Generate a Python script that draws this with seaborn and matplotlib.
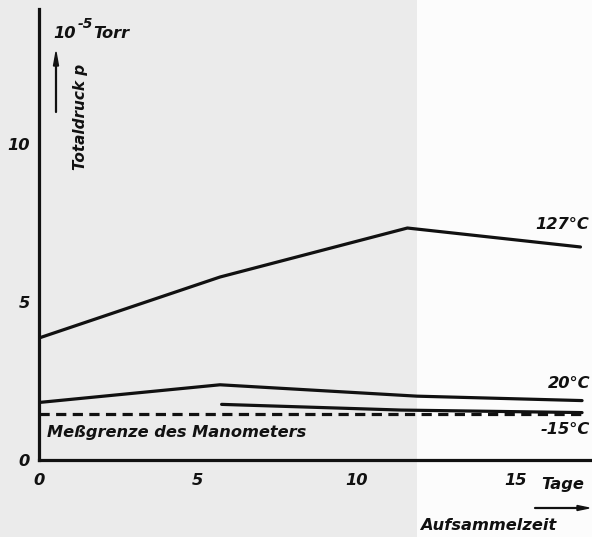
import matplotlib
matplotlib.use("Agg")
import matplotlib.pyplot as plt
from matplotlib.patches import Rectangle
import seaborn as sns
import pandas as pd

# Total pressure (10^-5 Torr) versus collection time (days)
days_127 = [0.0, 5.7, 11.6, 17.05]
p_127 = [3.86, 5.79, 7.34, 6.74]

days_20 = [0.0, 5.7, 11.9, 17.1]
p_20 = [1.82, 2.38, 2.02, 1.88]

days_m15 = [5.75, 11.4, 17.1]
p_m15 = [1.76, 1.58, 1.50]

gauge_limit = 1.46
x_ticks = [0, 5, 10, 15]
y_ticks = [0, 5, 10]

frames = []
for label, d, p in [("127°C", days_127, p_127), ("20°C", days_20, p_20), ("-15°C", days_m15, p_m15)]:
    frames.append(pd.DataFrame({"Tage": d, "p": p, "T": label}))
df = pd.concat(frames, ignore_index=True)

sns.set_style("white")
plt.rcParams["font.family"] = ["DejaVu Sans"]

W, H = 592, 537
fig = plt.figure(figsize=(W / 100, H / 100), dpi=100)
fig.patch.set_facecolor("#ebebeb")
# lighter right part of the page, kept behind the axes
fig.patches.append(Rectangle((417 / W, 0), 1 - 417 / W, 1, transform=fig.transFigure,
                             facecolor="#fcfcfc", edgecolor="none", zorder=-10))

ax = fig.add_axes([39 / W, 1 - 460 / H, (590 - 39) / W, (460 - 9) / H])
ax.set_facecolor("none")
ax.set_zorder(5)

sns.lineplot(data=df, x="Tage", y="p", units="T", estimator=None, color="#111111",
             linewidth=2.3, ax=ax, legend=False, sort=False)
ax.axhline(gauge_limit, color="#111111", linewidth=2.3, linestyle=(0, (3.2, 2.0)),
           xmin=0, xmax=17.1 / 17.35)

ax.set_xlim(0, 17.35)
ax.set_ylim(0, 14.27)
ax.set_xticks(x_ticks)
ax.set_yticks(y_ticks)
ax.set_xlabel("")
ax.set_ylabel("")

for side in ["top", "right"]:
    ax.spines[side].set_visible(False)
for side in ["left", "bottom"]:
    ax.spines[side].set_linewidth(2.3)
    ax.spines[side].set_color("#111111")

ax.tick_params(axis="both", direction="out", length=4.5, width=1.6, color="#111111",
               labelsize=11.7, labelcolor="#111111")
ax.tick_params(axis="x", pad=5)
ax.tick_params(axis="y", pad=2)
for lab in ax.get_xticklabels() + ax.get_yticklabels():
    lab.set_fontstyle("italic")
    lab.set_fontweight("bold")

txt = dict(color="#111111", fontstyle="italic", fontsize=11.7, fontweight="bold", zorder=10)

def put(x, y, s, **kw):
    opts = dict(txt)
    opts.update(kw)
    fig.text(x / W, 1 - y / H, s, **opts)

put(53, 34, "10", va="center", ha="left")
put(78, 24, "-5", va="center", ha="left", fontsize=10)
put(93, 34, "Torr", va="center", ha="left")
put(80, 117, "Totaldruck p", rotation=90, va="center", ha="center", fontsize=11)
fig.add_artist(plt.Line2D([56 / W, 56 / W], [1 - 112 / H, 1 - 62 / H], color="#111111", lw=1.6, zorder=10))
fig.add_artist(plt.Polygon([[53.5 / W, 1 - 66 / H], [58.5 / W, 1 - 66 / H], [56 / W, 1 - 52 / H]],
                           closed=True, color="#111111", zorder=10))

put(589, 225, "127°C", va="center", ha="right")
put(590, 383, "20°C", va="center", ha="right")
put(590, 430, "-15°C", va="center", ha="right")
put(47, 432, "Meßgrenze des Manometers", va="center", ha="left")
put(584, 485, "Tage", va="center", ha="right")
fig.add_artist(plt.Line2D([535 / W, 582 / W], [1 - 508 / H, 1 - 508 / H], color="#111111", lw=1.6, zorder=10))
fig.add_artist(plt.Polygon([[577 / W, 1 - 505.5 / H], [577 / W, 1 - 510.5 / H], [589 / W, 1 - 508 / H]],
                           closed=True, color="#111111", zorder=10))
put(420, 525, "Aufsammelzeit", va="center", ha="left")

fig.savefig("out.png", dpi=100, facecolor=fig.get_facecolor())
